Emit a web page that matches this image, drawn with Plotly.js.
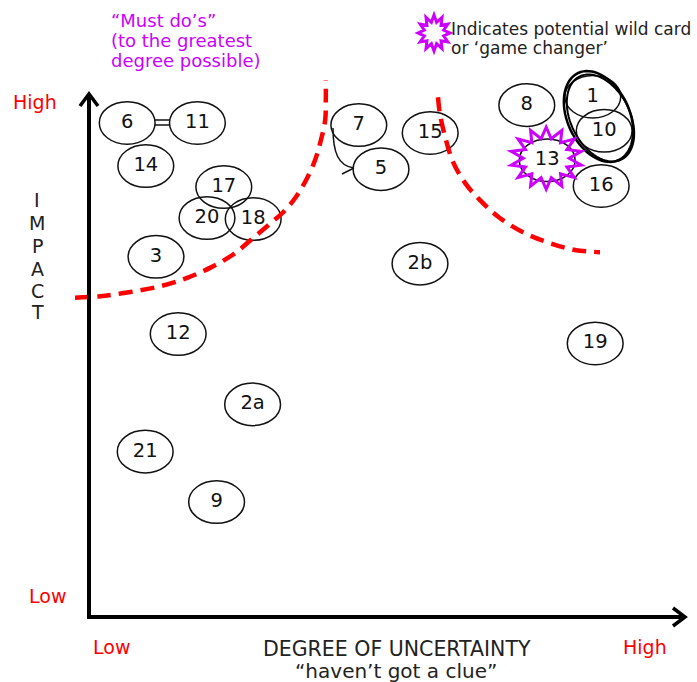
<!DOCTYPE html>
<html><head><meta charset="utf-8">
<script src="https://cdn.plot.ly/plotly-3.0.1.min.js"></script>
<style>html,body{margin:0;padding:0;background:#fff;}#chart{width:697px;height:682px;}</style>
</head><body><div id="chart"></div>
<script>
// ---- Data (uncertainty on x, impact on y; axis units 0..10) ----
const labels      = ["6","11","14","17","20","18","3","12","2a","21","9","7","5","15","2b","8","1","10","13","16","19"];
const uncertainty = [0.62,1.79,0.93,2.23,1.95,2.72,1.10,1.47,2.71,0.92,2.11,4.48,4.85,5.67,5.50,7.28,8.38,8.57,7.62,8.52,8.42];
const impact      = [9.41,9.41,8.59,8.19,7.60,7.58,6.86,5.39,4.05,3.15,2.19,9.37,8.53,9.22,6.73,9.75,9.91,9.26,8.70,8.21,5.21];
const wildCard    = ["13"];

// "Must do" boundary (left) and high-uncertainty boundary (right)
const mustDoX = [-0.25,0.17,0.67,1.17,1.62,2.00,2.38,2.72,3.00,3.22,3.42,3.60,3.75,3.85,3.92,3.93,3.93];
const mustDoY = [6.08,6.11,6.19,6.30,6.46,6.65,6.90,7.22,7.49,7.71,7.98,8.32,8.70,9.09,9.47,9.85,10.23];
const highUX  = [5.80,5.83,5.92,6.05,6.25,6.50,6.83,7.25,7.67,8.08,8.50];
const highUY  = [9.90,9.60,9.14,8.67,8.27,7.94,7.60,7.31,7.12,6.99,6.95];

// ---- Layout helpers (pixel -> axis units) ----
const X = px => (px - 90) / 60;
const Y = py => (617 - py) / 52.5;
const EW = 0.93, EH = 0.81;
const FONT = "DejaVu Sans, Verdana, sans-serif";
const PURPLE = "#cc00ff";

function pathFromPx(pts, close) {
  return pts.map((p, i) => (i ? "L" : "M") + X(p[0]).toFixed(4) + "," + Y(p[1]).toFixed(4)).join(" ") + (close ? " Z" : "");
}
function starPx(cx, cy, n, rxo, ryo, rxi, ryi, rot) {
  const pts = [];
  for (let k = 0; k < 2 * n; k++) {
    const a = rot + Math.PI * k / n;
    const o = k % 2 === 0;
    pts.push([cx + (o ? rxo : rxi) * Math.cos(a), cy + (o ? ryo : ryi) * Math.sin(a)]);
  }
  return pts;
}
function rotEllipsePx(cx, cy, a, b, angDeg) {
  const th = angDeg * Math.PI / 180;
  const u = [Math.sin(th), Math.cos(th)], v = [Math.cos(th), -Math.sin(th)];
  const pts = [];
  for (let k = 0; k <= 72; k++) {
    const t = 2 * Math.PI * k / 72;
    pts.push([cx + a * Math.cos(t) * u[0] + b * Math.sin(t) * v[0], cy + a * Math.cos(t) * u[1] + b * Math.sin(t) * v[1]]);
  }
  return pts;
}

const shapes = [];
labels.forEach((l, i) => {
  shapes.push({type: "circle", xref: "x", yref: "y", layer: "below",
    x0: uncertainty[i] - EW / 2, x1: uncertainty[i] + EW / 2,
    y0: impact[i] - EH / 2, y1: impact[i] + EH / 2,
    line: {color: "#111", width: 1.5}});
});
// axes with open arrow heads
shapes.push({type: "line", xref: "x", yref: "y", x0: X(89), y0: Y(619), x1: X(89), y1: Y(95), line: {color: "#000", width: 4}});
shapes.push({type: "line", xref: "x", yref: "y", x0: X(87), y0: Y(617), x1: X(684), y1: Y(617), line: {color: "#000", width: 4}});
shapes.push({type: "path", xref: "x", yref: "y", path: pathFromPx([[80, 106], [89, 94], [98, 106]]), line: {color: "#000", width: 3.5}});
shapes.push({type: "path", xref: "x", yref: "y", path: pathFromPx([[673, 608], [685, 617], [673, 626]]), line: {color: "#000", width: 3.5}});
// "=" link between 6 and 11
shapes.push({type: "line", xref: "x", yref: "y", x0: X(155), x1: X(170), y0: Y(120), y1: Y(120), line: {color: "#111", width: 1.5}});
shapes.push({type: "line", xref: "x", yref: "y", x0: X(155), x1: X(170), y0: Y(125), y1: Y(125), line: {color: "#111", width: 1.5}});
// curved arrow 7 -> 5
shapes.push({type: "path", xref: "x", yref: "y", path: "M" + X(333) + "," + Y(128) + " C" + X(333) + "," + Y(152) + " " + X(338) + "," + Y(166) + " " + X(354) + "," + Y(168), line: {color: "#111", width: 1.5}});
shapes.push({type: "path", xref: "x", yref: "y", path: pathFromPx([[342, 174], [354, 168]]), line: {color: "#111", width: 1.5}});
// double ellipse around cluster 1 & 10
shapes.push({type: "path", xref: "x", yref: "y", path: pathFromPx(rotEllipsePx(598.5, 116.5, 48, 31, 25), true), line: {color: "#000", width: 2.5}});
shapes.push({type: "path", xref: "x", yref: "y", path: pathFromPx(rotEllipsePx(600.5, 118, 46.5, 29.5, 27), true), line: {color: "#000", width: 2}});
// wild card star around 13
const wi = labels.indexOf(wildCard[0]);
const wcx = 90 + uncertainty[wi] * 60 - 1, wcy = 617 - impact[wi] * 52.5 - 2;
shapes.push({type: "path", xref: "x", yref: "y", layer: "above", path: pathFromPx(starPx(wcx, wcy, 14, 36, 31, 23, 20, -Math.PI / 2), true), line: {color: PURPLE, width: 3}});
// legend star
shapes.push({type: "path", xref: "x", yref: "y", path: pathFromPx(starPx(434, 33, 12, 16, 18, 10, 11, -Math.PI / 2), true), line: {color: PURPLE, width: 3}});

const traces = [
  {x: mustDoX, y: mustDoY, mode: "lines", line: {color: "#ff0000", width: 4.5, dash: "14px,8px", shape: "spline"}, hoverinfo: "skip"},
  {x: highUX, y: highUY, mode: "lines", line: {color: "#ff0000", width: 4.5, dash: "14px,8px", shape: "spline"}, hoverinfo: "skip"},
  {x: uncertainty, y: impact, text: labels, mode: "text", textposition: "middle center",
   textfont: {family: FONT, size: 19.5, color: "#111"}, cliponaxis: false, hoverinfo: "skip"}
];

function ann(text, px, py, size, color, xanchor) {
  return {text: text, x: X(px), y: Y(py), xref: "x", yref: "y", showarrow: false,
    xanchor: xanchor || "center", yanchor: "middle", font: {family: FONT, size: size, color: color}};
}
const RED = "#ff0000";
const annotations = [
  ann("\u201cMust do\u2019s\u201d", 109, 20, 18, PURPLE, "left"),
  ann("(to the greatest", 109, 40, 18, PURPLE, "left"),
  ann("degree possible)", 109, 60, 18, PURPLE, "left"),
  ann("Indicates potential wild card", 449, 29, 17, "#222", "left"),
  ann("or \u2018game changer\u2019", 449, 48, 17, "#222", "left"),
  ann("High", 35, 102, 19, RED),
  ann("Low", 47, 596, 19, RED),
  ann("Low", 111, 647, 19, RED),
  ann("High", 645, 647, 19, RED),
  ann("DEGREE OF UNCERTAINTY", 397, 649, 20.5, "#222"),
  ann("\u201chaven\u2019t got a clue\u201d", 396, 671, 20, "#222")
];
const impactWord = ["I", "M", "P", "A", "C", "T"];
const impactYs = [200, 223, 246, 269, 291, 312];
impactWord.forEach((c, i) => annotations.push(ann(c, 37, impactYs[i], 19, "#222")));

const layout = {
  width: 697, height: 682, autosize: false,
  margin: {l: 0, r: 0, t: 0, b: 0},
  paper_bgcolor: "#fff", plot_bgcolor: "#fff",
  showlegend: false, hovermode: false,
  xaxis: {range: [X(0), X(697)], visible: false, fixedrange: true},
  yaxis: {range: [Y(682), Y(0)], visible: false, fixedrange: true},
  shapes: shapes, annotations: annotations
};
Plotly.newPlot("chart", traces, layout, {staticPlot: true, displayModeBar: false});
</script>
</body></html>
